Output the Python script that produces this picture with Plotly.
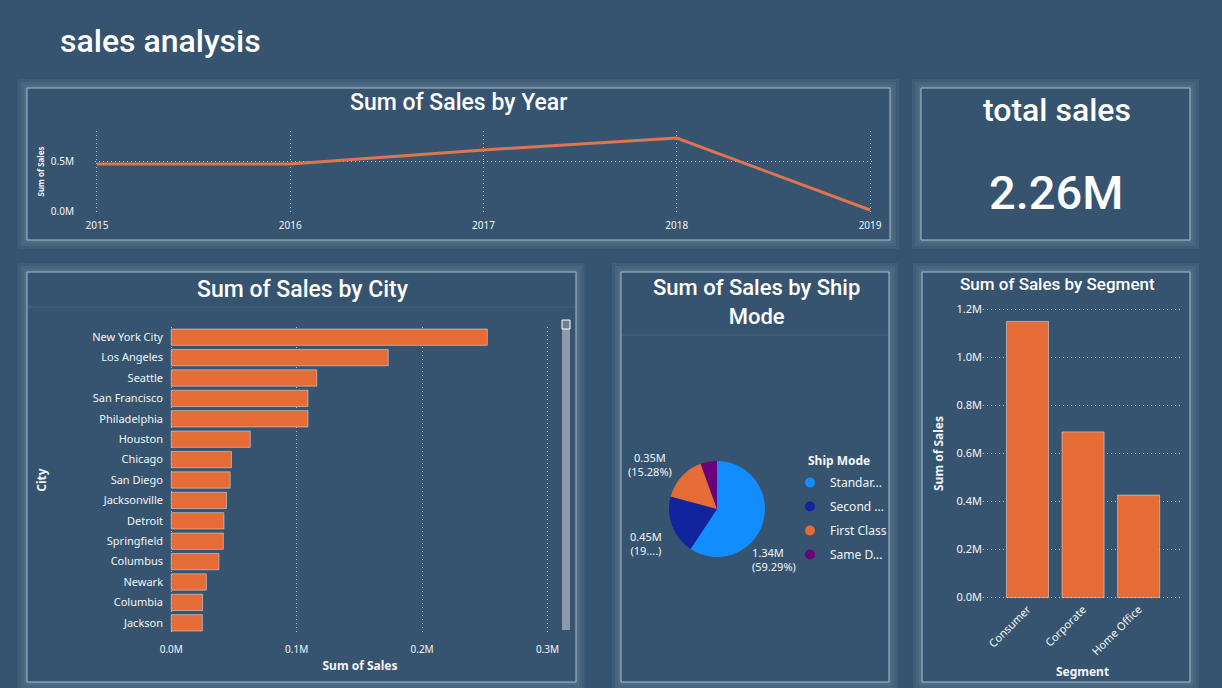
import plotly.graph_objects as go

W, H = 1222, 688
BG = "#36546F"
BORDER = "#A9BDCF"
ORANGE = "#E66C37"
LINE_ORANGE = "#DC7550"
TXT = "#F2F5F8"
GRID = "rgba(225,232,240,0.75)"
DOT = "1px,3px"
TITLE_FONT = "Roboto"
LABEL_FONT = "Noto Sans"

# sales by year (millions)
YEARS = [2015, 2016, 2017, 2018, 2019]
YEAR_SALES = [0.47, 0.47, 0.61, 0.73, 0.01]
YEAR_TICKS = [0, 0.5]
YEAR_TICK_TEXT = ["0.0M", "0.5M"]

# sales by city (millions)
CITIES = ["New York City", "Los Angeles", "Seattle", "San Francisco", "Philadelphia",
          "Houston", "Chicago", "San Diego", "Jacksonville", "Detroit",
          "Springfield", "Columbus", "Newark", "Columbia", "Jackson"]
CITY_SALES = [0.252, 0.173, 0.116, 0.109, 0.109, 0.063, 0.048, 0.047, 0.044,
              0.042, 0.0415, 0.038, 0.028, 0.025, 0.0248]

# sales by ship mode (millions)
SHIP_MODES = ["Standard Class", "Second Class", "First Class", "Same Day"]
SHIP_LEGEND = ["Standar...", "Second ...", "First Class", "Same D..."]
SHIP_SALES = [1.34, 0.45, 0.3453, 0.1247]
SHIP_COLORS = ["#118DFF", "#12239E", "#E66C37", "#6B007B"]

# sales by segment (millions)
SEGMENTS = ["Consumer", "Corporate", "Home Office"]
SEGMENT_SALES = [1.15, 0.69, 0.427]

TOTAL_SALES = 2.26


def px(x):
    return x / W


def py(y):
    return 1 - y / H


fig = go.Figure()

# line chart by year
fig.add_trace(go.Scatter(x=YEARS, y=YEAR_SALES, mode="lines",
                         line=dict(color=LINE_ORANGE, width=3),
                         xaxis="x", yaxis="y", showlegend=False))

# bar chart by city
fig.add_trace(go.Bar(x=CITY_SALES, y=CITIES, orientation="h", marker_color=ORANGE,
                     xaxis="x2", yaxis="y2", showlegend=False))

# pie by ship mode (legend comes from the dummy circle traces below)
fig.add_trace(go.Pie(labels=SHIP_MODES, values=SHIP_SALES,
                     marker=dict(colors=SHIP_COLORS, line=dict(width=0)),
                     sort=False, direction="clockwise", rotation=0, showlegend=False,
                     textinfo="none", hovertemplate="%{label}: %{value:.2f}M<extra></extra>",
                     domain=dict(x=[px(669), px(765)], y=[py(557), py(461)])))
for name, col in zip(SHIP_LEGEND, SHIP_COLORS):
    fig.add_trace(go.Scatter(x=[None], y=[None], mode="markers", name=name, legendgroup=name,
                             marker=dict(color=col, size=10, symbol="circle"),
                             xaxis="x", yaxis="y"))

# bar chart by segment
fig.add_trace(go.Bar(x=SEGMENTS, y=SEGMENT_SALES, marker_color=ORANGE, width=0.757,
                     xaxis="x3", yaxis="y3", showlegend=False))

tick_font = dict(family=LABEL_FONT, size=10, color=TXT)
grid = dict(showgrid=True, gridcolor=GRID, griddash=DOT, gridwidth=1, zeroline=False,
            showline=False, ticks="", automargin=False)
nogrid = dict(showgrid=False, zeroline=False, showline=False, ticks="", automargin=False)


def axis_title(text, size=12, standoff=6):
    return dict(text=f"<b>{text}</b>", font=dict(family=LABEL_FONT, size=size, color=TXT),
                standoff=standoff)


fig.update_layout(
    width=W, height=H, margin=dict(l=0, r=0, t=0, b=0, autoexpand=False),
    paper_bgcolor=BG, plot_bgcolor="rgba(0,0,0,0)",
    bargap=0.2,
    xaxis=dict(domain=[px(95), px(872)], range=[2014.99, 2019.01], tickvals=YEARS,
               tickfont=tick_font, anchor="y", ticklabelstandoff=6, **grid),
    yaxis=dict(domain=[py(212), py(131)], range=[-0.01, 0.8], tickvals=YEAR_TICKS,
               ticktext=YEAR_TICK_TEXT, tickfont=tick_font, anchor="x", ticklabelstandoff=20,
               title=axis_title("Sum of Sales", 8, 4), **grid),
    xaxis2=dict(domain=[px(170), px(550)], range=[-0.001, 0.302], dtick=0.1, tickformat=".1f",
                ticksuffix="M", tickfont=tick_font, anchor="y2", ticklabelstandoff=9,
                title=axis_title("Sum of Sales", 12, 6), **grid),
    yaxis2=dict(domain=[py(633), py(327)], autorange="reversed", anchor="x2",
                tickfont=dict(family=LABEL_FONT, size=11, color=TXT), ticklabelstandoff=6,
                title=axis_title("City", 12, 42), **nogrid),
    xaxis3=dict(domain=[px(983), px(1182)], range=[-0.8, 2.78], tickangle=-45,
                tickfont=dict(family=LABEL_FONT, size=11, color=TXT), anchor="y3",
                title=axis_title("Segment", 12, 10), **nogrid),
    yaxis3=dict(domain=[py(600), py(307)], range=[-0.01, 1.21], dtick=0.2, tickformat=".1f",
                ticksuffix="M", tickfont=dict(family=LABEL_FONT, size=11, color=TXT), anchor="x3",
                title=axis_title("Sum of Sales", 12, 10), **grid),
    legend=dict(x=px(790), y=py(468), xanchor="left", yanchor="top",
                bgcolor="rgba(0,0,0,0)", tracegroupgap=5,
                font=dict(family=LABEL_FONT, size=12, color=TXT)),
)

# cards with a soft glow
cards = [(27, 88, 890, 240), (921, 88, 1190, 240), (27, 272, 576, 682),
         (621, 272, 889, 682), (922, 272, 1190, 682)]
shapes = []
for x0, y0, x1, y1 in cards:
    for g in (9, 6, 3):
        shapes.append(dict(type="rect", xref="paper", yref="paper", layer="below",
                           x0=px(x0 - g), x1=px(x1 + g), y0=py(y1 + g), y1=py(y0 - g),
                           line=dict(width=0), fillcolor="rgba(200,215,230,0.07)"))
    shapes.append(dict(type="rect", xref="paper", yref="paper", layer="below",
                       x0=px(x0), x1=px(x1), y0=py(y1), y1=py(y0),
                       line=dict(color=BORDER, width=1), fillcolor=BG))

# header separators
for x0, x1, y in [(28, 575, 307), (622, 888, 335)]:
    shapes.append(dict(type="line", xref="paper", yref="paper", x0=px(x0), x1=px(x1),
                       y0=py(y), y1=py(y), line=dict(color="#4B6279", width=1)))

# scrollbar in city card
shapes.append(dict(type="rect", xref="paper", yref="paper", x0=px(562), x1=px(570),
                   y0=py(630), y1=py(329), line=dict(width=0), fillcolor="#8C9AAA"))
shapes.append(dict(type="rect", xref="paper", yref="paper", x0=px(562), x1=px(570),
                   y0=py(329), y1=py(320), line=dict(color="#FFFFFF", width=1), fillcolor="#6E7F90"))
fig.update_layout(shapes=shapes)

# titles
ann = [
    dict(text="sales analysis", x=58, y=41, xanchor="left", size=32),
    dict(text="Sum of Sales by Year", x=459, y=102, size=23),
    dict(text="total sales", x=1057, y=110, size=32),
    dict(text=f"{TOTAL_SALES:.2f}M", x=1056, y=192, size=47),
    dict(text="Sum of Sales by City", x=303, y=289, size=23),
    dict(text="Sum of Sales by Ship<br>Mode", x=756, y=302, size=22),
    dict(text="Sum of Sales by Segment", x=1057, y=284, size=17),
]
for a in ann:
    fig.add_annotation(text=a["text"], x=px(a["x"]), y=py(a["y"]), xref="paper", yref="paper",
                       xanchor=a.get("xanchor", "center"), yanchor="middle", showarrow=False,
                       font=dict(family=TITLE_FONT, size=a["size"], color="#FFFFFF", weight=500))

fig.add_annotation(text="<b>Ship Mode</b>", x=px(806), y=py(460), xref="paper", yref="paper",
                   xanchor="left", yanchor="middle", showarrow=False,
                   font=dict(family=LABEL_FONT, size=12, color=TXT))

# pie data labels
total_ship = sum(SHIP_SALES)
pie_txt = [f"{v:.2f}M<br>({v / total_ship * 100:.2f}%)" for v in SHIP_SALES]
pie_txt[1] = f"{SHIP_SALES[1]:.2f}M<br>" + f"({SHIP_SALES[1] / total_ship * 100:.2f}%)"[:3] + "....)"
pie_pos = [(750, 559, "left"), (646, 543, "center"), (650, 464, "center")]
for t, (x, y, al) in zip(pie_txt, pie_pos):
    fig.add_annotation(text=t, x=px(x), y=py(y), xref="paper", yref="paper",
                       xanchor="left" if al == "left" else "center", yanchor="middle",
                       align=al, showarrow=False,
                       font=dict(family=LABEL_FONT, size=11, color=TXT))

fig.write_html("out.html", config={"displayModeBar": False},
               post_script="document.body.style.margin='0';")
